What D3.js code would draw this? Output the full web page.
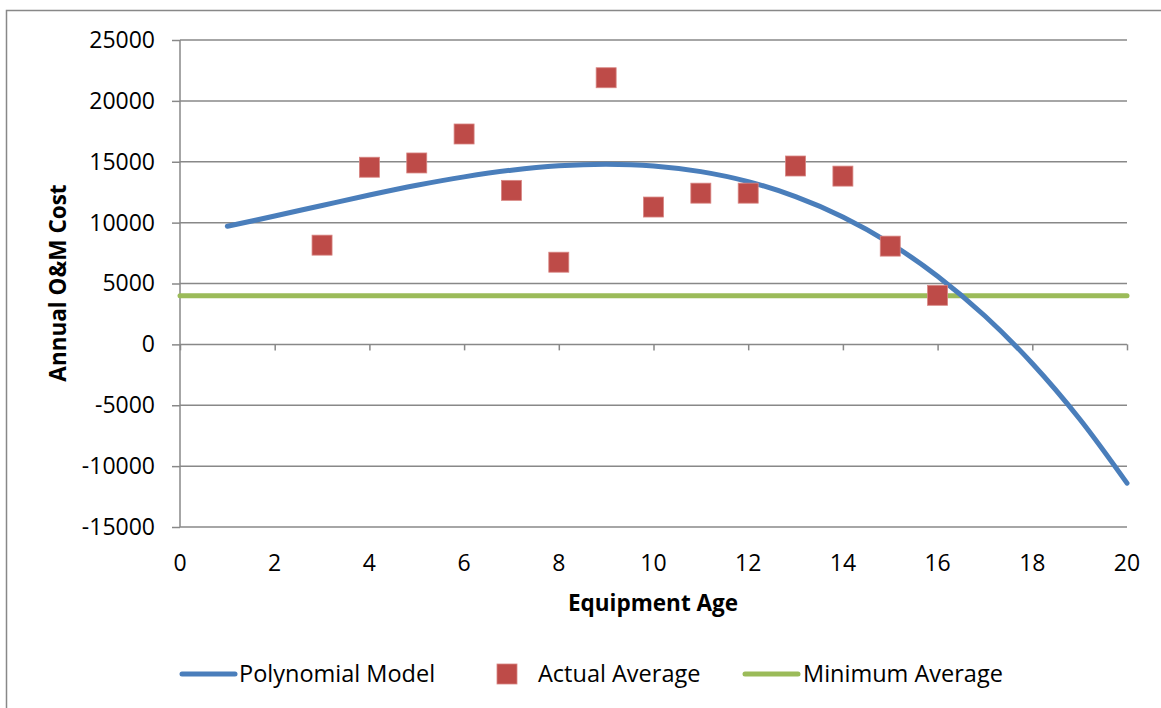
<html>
<head>
  <meta charset="UTF-8">
  <title>Annual O&M Cost</title>
  <script src="https://d3js.org/d3.v7.min.js"></script>
  <style>
    body { margin: 0; background: white; }
    svg text { font-family: "Open Sans", sans-serif; fill: black; }
  </style>
</head>
<body>
  <svg></svg>
</body>
<script>
  // values
  let actualAge = [3, 4, 5, 6, 7, 8, 9, 10, 11, 12, 13, 14, 15, 16];
  let actualCost = [8150, 14550, 14900, 17280, 12650, 6750, 21900, 11280, 12420, 12420, 14650, 13820, 8070, 4030];

  let modelAge = [1, 2, 3, 4, 5, 6, 7, 8, 9, 10, 11, 12, 13, 14, 15, 16, 17, 18, 19, 20];
  let modelCost = [9700, 10540, 11410, 12270, 13070, 13760, 14310, 14670, 14800, 14660, 14190, 13370, 12140, 10470, 8300, 5600, 2330, -1570, -6130, -11400];

  let minAge = [0, 20];
  let minCost = [4000, 4000];

  let xTicks = [0, 2, 4, 6, 8, 10, 12, 14, 16, 18, 20];
  let yTicks = [-15000, -10000, -5000, 0, 5000, 10000, 15000, 20000, 25000];

  let width = 1161,
    height = 708;

  let svg = d3.select("svg")
    .attr("width", width)
    .attr("height", height);

  // chart frame
  svg.append("rect")
    .attr("x", 6.5).attr("y", 10.5)
    .attr("width", width + 10).attr("height", height + 10)
    .attr("fill", "white")
    .attr("stroke", "#888").attr("stroke-width", 1.5);

  let x = d3.scaleLinear().domain([0, 20]).range([180, 1127]);
  let y = d3.scaleLinear().domain([-15000, 25000]).range([527, 40]);

  // gridlines + y axis labels
  let yAxis = svg.append("g")
    .attr("transform", "translate(180,0)")
    .call(d3.axisLeft(y).tickValues(yTicks).tickSize(8).tickPadding(17).tickFormat(d => d));
  yAxis.select(".domain").remove();
  yAxis.selectAll("line").attr("stroke", "#888").attr("stroke-width", 1.5);
  yAxis.selectAll("text").style("font-size", "23px").style("font-family", "'Open Sans', sans-serif");

  svg.append("g")
    .selectAll("line")
    .data(yTicks)
    .enter()
    .append("line")
    .attr("x1", 180).attr("x2", 1127)
    .attr("y1", d => y(d)).attr("y2", d => y(d))
    .attr("stroke", "#888").attr("stroke-width", 1.5);

  // vertical axis line
  svg.append("line")
    .attr("x1", 180).attr("x2", 180)
    .attr("y1", 40).attr("y2", 527)
    .attr("stroke", "#888").attr("stroke-width", 1.5);

  // x axis sits at 0
  let xAxis = svg.append("g")
    .attr("transform", "translate(0," + y(0) + ")")
    .call(d3.axisBottom(x).tickValues(xTicks).tickSize(6).tickFormat(""));
  xAxis.select(".domain").remove();
  xAxis.selectAll("line").attr("stroke", "#888").attr("stroke-width", 1.5);

  // x labels below plot
  svg.append("g")
    .selectAll("text")
    .data(xTicks)
    .enter()
    .append("text")
    .attr("x", d => x(d))
    .attr("y", 571)
    .attr("text-anchor", "middle")
    .style("font-size", "23px")
    .text(d => d);

  // axis titles
  svg.append("text")
    .attr("x", 653).attr("y", 611)
    .attr("text-anchor", "middle")
    .style("font-size", "22.5px").style("font-weight", "bold")
    .text("Equipment Age");

  svg.append("text")
    .attr("transform", "translate(66,283) rotate(-90)")
    .attr("text-anchor", "middle")
    .style("font-size", "22.5px").style("font-weight", "bold")
    .text("Annual O&M Cost");

  // minimum average
  svg.append("path")
    .datum(minAge.map((d, i) => [d, minCost[i]]))
    .attr("fill", "none")
    .attr("stroke", "#9BBB59").attr("stroke-width", 5).attr("stroke-linecap", "round")
    .attr("d", d3.line().x(d => x(d[0])).y(d => y(d[1])));

  // polynomial model
  svg.append("path")
    .datum(modelAge.map((d, i) => [d, modelCost[i]]))
    .attr("fill", "none")
    .attr("stroke", "#4A7EBB").attr("stroke-width", 5).attr("stroke-linecap", "round")
    .attr("d", d3.line().curve(d3.curveCatmullRom).x(d => x(d[0])).y(d => y(d[1])));

  // actual averages
  svg.append("g")
    .selectAll("rect")
    .data(actualAge.map((d, i) => [d, actualCost[i]]))
    .enter()
    .append("rect")
    .attr("x", d => x(d[0]) - 10)
    .attr("y", d => y(d[1]) - 10)
    .attr("width", 20).attr("height", 20)
    .attr("fill", "#BE4B48")
    .attr("stroke", "#D88683").attr("stroke-width", 0.8);

  // legend
  let legend = svg.append("g");
  legend.append("line")
    .attr("x1", 182).attr("x2", 235).attr("y1", 674).attr("y2", 674)
    .attr("stroke", "#4A7EBB").attr("stroke-width", 5).attr("stroke-linecap", "round");
  legend.append("text").attr("x", 239).attr("y", 682).style("font-size", "23.5px").text("Polynomial Model");

  legend.append("rect")
    .attr("x", 497).attr("y", 664).attr("width", 20).attr("height", 20)
    .attr("fill", "#BE4B48").attr("stroke", "#D88683").attr("stroke-width", 0.8);
  legend.append("text").attr("x", 538).attr("y", 682).style("font-size", "23.5px").text("Actual Average");

  legend.append("line")
    .attr("x1", 745).attr("x2", 798).attr("y1", 674).attr("y2", 674)
    .attr("stroke", "#9BBB59").attr("stroke-width", 5).attr("stroke-linecap", "round");
  legend.append("text").attr("x", 803).attr("y", 682).style("font-size", "23.5px").text("Minimum Average");
</script>
</html>
